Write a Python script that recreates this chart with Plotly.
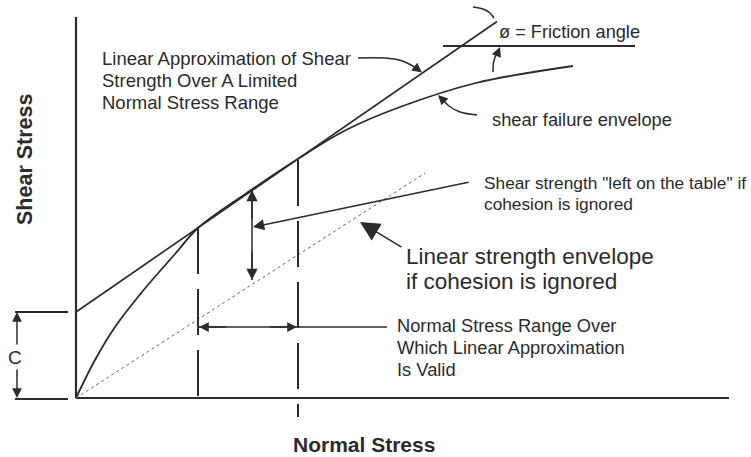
import plotly.graph_objects as go

# ---------------- diagram data (x = normal stress, y = shear stress, drawing units) ----------
axis_x_end = 653
axis_y_end = 381

# shear failure envelope (curved)
envelope_x = [0, 19, 39, 66, 99, 122, 170, 221, 270, 324, 400, 497]
envelope_y = [0, 38, 71, 106, 144, 170, 204.5, 238.5, 268, 291, 315, 332]

# linear approximation (with cohesion intercept)
cohesion = 86
approx_slope = 0.69
approx_x = [0, 421]
approx_y = [cohesion + approx_slope * v for v in approx_x]

# linear envelope if cohesion ignored
nocoh_x = [0, 349]
nocoh_y = [0, 225]

# range of validity (dashed verticals)
range_x = [122, 222]
range_top = [170, 238]
range_bottom = [-4, -19]
range_arrow_y = 71
range_leader_end = 311

# shear strength "left on the table" arrow
gap_x = 176
gap_y = [118, 208]

# friction angle reference line
friction_line_x = [367, 559]
friction_line_y = 352

# cohesion dimension
c_dim_x = [-61, -8]
c_arrow_x = -59

# curved leaders
lead_approx_x = [282, 309, 325, 335, 340]
lead_approx_y = [340, 340, 337.5, 333, 330]
lead_env_x = [401, 384, 373, 367]
lead_env_y = [283, 286, 292, 298]
arc_top_x = [397, 407, 414, 418]
arc_top_y = [391, 389, 385, 380]
arc_bot_x = [417, 417.5, 419.5, 422]
arc_bot_y = [326, 335, 342, 346]

INK = "#2b2b2b"
FONT = "Liberation Sans, Arial, Helvetica, sans-serif"

fig = go.Figure()


def line(xs, ys, width=1.6, dash=None, color=INK, shape="linear"):
    fig.add_trace(go.Scatter(x=xs, y=ys, mode="lines", hoverinfo="skip",
                             line=dict(color=color, width=width, dash=dash, shape=shape,
                                       smoothing=1.0)))


# axes
line([0, axis_x_end], [0, 0], width=2.2)
line([0, 0], [0, axis_y_end], width=2.2)

# curves
line(envelope_x, envelope_y, width=1.8, shape="spline")
line(approx_x, approx_y, width=1.7)
line(nocoh_x, nocoh_y, width=1.0, dash="dot", color="#666666")

# dashed verticals
for xv, yt, yb in zip(range_x, range_top, range_bottom):
    line([xv, xv], [yt, yb], width=2.0, dash="46px,15px")

# range arrow line
line([range_x[0], range_leader_end], [range_arrow_y, range_arrow_y], width=1.5)
# gap arrow
line([gap_x, gap_x], gap_y, width=1.5)
# friction reference
line(friction_line_x, [friction_line_y, friction_line_y], width=1.8)
# C dimension ticks
line(c_dim_x, [cohesion, cohesion], width=1.8)
line(c_dim_x, [-1, -1], width=1.8)

# curved leaders
line(lead_approx_x, lead_approx_y, width=1.5, shape="spline")
line(lead_env_x, lead_env_y, width=1.5, shape="spline")
line(arc_top_x, arc_top_y, width=1.5, shape="spline")
line(arc_bot_x, arc_bot_y, width=1.5, shape="spline")

arrows = [
    # (head_x, head_y, tail_x, tail_y, size)
    (range_x[0] + 1, range_arrow_y, range_x[0] + 30, range_arrow_y, 1.3),
    (range_x[1] - 1, range_arrow_y, range_x[1] - 30, range_arrow_y, 1.3),
    (gap_x, gap_y[1], gap_x, gap_y[1] - 30, 1.5),
    (gap_x, gap_y[0], gap_x, gap_y[0] + 30, 1.5),
    (177, 171, 394, 216, 1.5),
    (284, 176, 327, 150, 2.6),
    (c_arrow_x, cohesion, c_arrow_x, 52, 1.3),
    (c_arrow_x, 0, c_arrow_x, 30, 1.3),
    (346, 325.5, lead_approx_x[-1], lead_approx_y[-1], 1.3),
    (362, 303, lead_env_x[-1], lead_env_y[-1], 1.3),
    (420, 376.5, arc_top_x[-1], arc_top_y[-1], 1.3),
    (424, 351, arc_bot_x[-1], arc_bot_y[-1], 1.3),
]
for hx, hy, tx, ty, s in arrows:
    fig.add_annotation(x=hx, y=hy, ax=tx, ay=ty, xref="x", yref="y", axref="x", ayref="y",
                       text="", showarrow=True, arrowhead=2, arrowsize=s, arrowwidth=1.5,
                       arrowcolor=INK, standoff=0, startstandoff=0)

# texts: (text, x, y, size)
texts = [
    ("Linear Approximation of Shear", 24, 340, 18.5),
    ("Strength Over A Limited", 24, 318, 18.5),
    ("Normal Stress Range", 24, 296, 18.5),
    ("ø = Friction angle", 421, 366, 18.2),
    ("shear failure envelope", 414, 279, 18.3),
    ("Shear strength \"left on the table\" if", 406, 215, 17.3),
    ("cohesion is ignored", 406, 194, 17.3),
    ("Linear strength envelope", 328, 142, 22.5),
    ("if cohesion is ignored", 328, 117, 22.5),
    ("Normal Stress Range Over", 319, 73, 18.3),
    ("Which Linear Approximation", 319, 51, 18.3),
    ("Is Valid", 319, 29, 18.3),
]
for t, x, y, s in texts:
    fig.add_annotation(x=x, y=y, xref="x", yref="y", text=t, showarrow=False,
                       xanchor="left", yanchor="middle",
                       font=dict(family=FONT, size=s, color=INK))

fig.add_annotation(x=-61, y=41, xref="x", yref="y", text="C", showarrow=False,
                   xanchor="center", yanchor="middle", font=dict(family=FONT, size=19, color=INK))
fig.add_annotation(x=288, y=-46, xref="x", yref="y", text="<b>Normal Stress</b>", showarrow=False,
                   xanchor="center", yanchor="middle", font=dict(family=FONT, size=21, color=INK))
fig.add_annotation(x=-51, y=239, xref="x", yref="y", text="<b>Shear Stress</b>", showarrow=False,
                   textangle=-90, xanchor="center", yanchor="middle",
                   font=dict(family=FONT, size=21.5, color=INK))

fig.update_layout(
    width=751, height=457, margin=dict(l=0, r=0, t=0, b=0),
    paper_bgcolor="white", plot_bgcolor="white", showlegend=False,
    xaxis=dict(range=[-76, 675], visible=False, fixedrange=True),
    yaxis=dict(range=[-59, 398], visible=False, fixedrange=True),
)

fig.write_html("out.html", config={"displayModeBar": False},
               post_script="document.body.style.margin='0';document.body.style.overflow='hidden';")
